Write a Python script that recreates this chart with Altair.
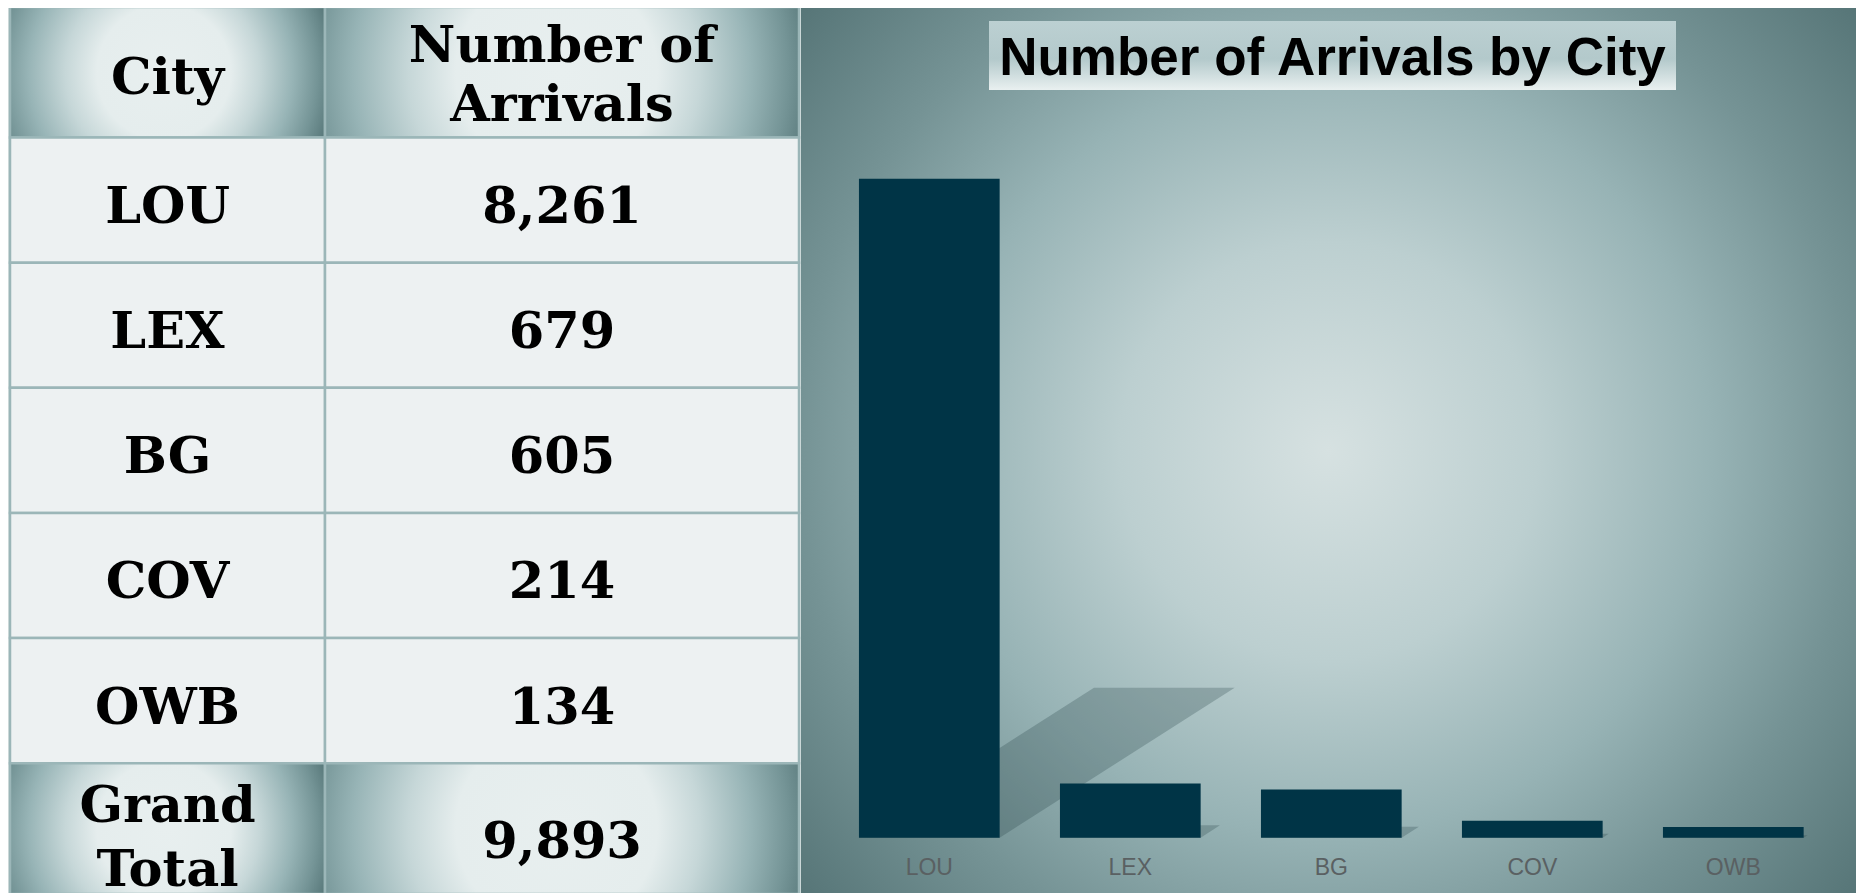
import altair as alt
import pandas as pd

# ---------------- data ----------------
cities = ["LOU", "LEX", "BG", "COV", "OWB"]
arrivals = [8261, 679, 605, 214, 134]
grand_total = 9893
header_city = "City"
header_value = "Number of\nArrivals"
total_label = "Grand\nTotal"
chart_title = "Number of Arrivals by City"

# ---------------- layout / style ----------------
W, H = 1848, 885
BODY = "#edf1f2"
GRID = "#9bb6b8"
BAR = "#003446"
SERIF = "DejaVu Serif"

row_keys = ["header"] + cities + ["total"]
city_text = [header_city] + cities + [total_label]
value_text = [header_value] + [f"{v:,}" for v in arrivals] + [f"{grand_total:,}"]
kinds = ["head"] + ["body"] * len(cities) + ["total"]

table = pd.DataFrame({"row": row_keys, "City": city_text, "Number": value_text, "kind": kinds})
bars = pd.DataFrame({"city": cities, "arrivals": arrivals})
one = pd.DataFrame({"k": [0]})

SEGMENTS = {
    "head": (["header"], [-1, 129.5]),
    "body": (cities, [129.5, 755.2]),
    "total": (["total"], [755.2, 886]),
}
# (dy for multi-line text, line height, dy for single-line text)
SEG_TEXT = {"head": (-25.5, 59, 6.5), "total": (-22, 64, 14)}

head_grad = alt.RadialGradient(
    gradient="radial", x1=0.5, y1=0.5, r1=0, x2=0.47, y2=0.5, r2=0.56,
    stops=[
        alt.GradientStop(offset=0, color="#e8efef"),
        alt.GradientStop(offset=0.38, color="#e5eded"),
        alt.GradientStop(offset=0.55, color="#c6d7d8"),
        alt.GradientStop(offset=0.75, color="#97b4b6"),
        alt.GradientStop(offset=0.9, color="#749496"),
        alt.GradientStop(offset=1, color="#5b7b7d"),
    ],
)

panel_grad = alt.RadialGradient(
    gradient="radial", x1=0.5, y1=0.5, r1=0, x2=0.5, y2=0.5, r2=0.66,
    stops=[
        alt.GradientStop(offset=0, color="#d6e1e1"),
        alt.GradientStop(offset=0.3, color="#bccfd0"),
        alt.GradientStop(offset=0.55, color="#97b3b5"),
        alt.GradientStop(offset=0.76, color="#759395"),
        alt.GradientStop(offset=1, color="#557476"),
    ],
)

title_grad = alt.LinearGradient(
    gradient="linear", x1=0, y1=0, x2=0, y2=1,
    stops=[
        alt.GradientStop(offset=0, color="#bcd0d2"),
        alt.GradientStop(offset=0.55, color="#b3c9cb"),
        alt.GradientStop(offset=1, color="#e9f0f0"),
    ],
)

TEXT_STYLE = dict(font=SERIF, fontWeight="bold", fontSize=51, lineBreak="\n",
                  baseline="middle", align="center", color="black")


def column_layers(field, rng):
    xs = alt.Scale(domain=[field], range=rng, paddingInner=0, paddingOuter=0)
    x = alt.X("col:N", scale=xs, axis=None)
    out = []
    for seg, (dom, yr) in SEGMENTS.items():
        ys = alt.Scale(domain=dom, range=yr, paddingInner=0, paddingOuter=0)
        y = alt.Y("row:N", scale=ys, axis=None, sort=None)
        base = alt.Chart(table).transform_filter(f"datum.kind == '{seg}'").transform_calculate(
            col=f"'{field}'")
        fill = BODY if seg == "body" else head_grad
        out.append(base.mark_rect(fill=fill, stroke=GRID, strokeWidth=2.5).encode(x=x, y=y))
        multi = f"indexof(datum['{field}'], '\\n') >= 0"
        if seg == "body":
            out.append(base.mark_text(dy=8, lineHeight=59, **TEXT_STYLE).encode(
                x=x, y=y, text=f"{field}:N"))
        else:
            dy_multi, lh, dy_single = SEG_TEXT[seg]
            out.append(base.transform_filter(multi).mark_text(
                dy=dy_multi, lineHeight=lh, **TEXT_STYLE).encode(x=x, y=y, text=f"{field}:N"))
            out.append(base.transform_filter(f"!({multi})").mark_text(
                dy=dy_single, lineHeight=lh, **TEXT_STYLE).encode(x=x, y=y, text=f"{field}:N"))
    return out


panel = alt.Chart(one).mark_rect(fill=panel_grad).encode(
    x=alt.value(793), x2=alt.value(W), y=alt.value(-2), y2=alt.value(H + 2))

title_box = alt.Chart(one).mark_rect(fill=title_grad).encode(
    x=alt.value(981), x2=alt.value(1668), y=alt.value(13), y2=alt.value(82))

title_text = alt.Chart(one).mark_text(
    text=chart_title, font="Liberation Sans", fontWeight="bold", fontSize=53,
    align="center", baseline="middle", color="black",
).encode(x=alt.value(1324.5), y=alt.value(51))

# bar chart scales
base_y = 829.7
px_per = 659 / 8261
band_range = [820.8, 1825.8]
step_px = (band_range[1] - band_range[0]) / len(cities)
x_band = alt.Scale(domain=cities, range=band_range, paddingInner=0.3, paddingOuter=0.15)
y_lin = alt.Scale(domain=[0, 9000], range=[base_y, base_y - 9000 * px_per], nice=False)

xb = alt.X("city:N", sort=None, scale=x_band, axis=None)
yb = alt.Y("arrivals:Q", scale=y_lin, axis=None)
bar_layer = alt.Chart(bars).mark_bar(color=BAR).encode(x=xb, y=yb)

labels = alt.Chart(bars).mark_text(
    font="Liberation Sans", fontSize=23, color="#5a6062", baseline="middle", align="center",
).encode(x=xb, text="city:N", y=alt.value(860))

# perspective shadow cast by each bar (derived from the bar values)
SH_K = 0.2276      # shadow height relative to bar height
SH_SHEAR = 1.567   # horizontal shift per unit of shadow height
rows = []
for i, (c, v) in enumerate(zip(cities, arrivals)):
    L, R = i + 0.15, i + 0.85
    T = v * SH_K
    D = SH_SHEAR * T * px_per / step_px
    for xx in sorted({L, R, L + D, R + D}):
        up = min(T, T * (xx - L) / D)
        lo = max(0.0, T * (xx - R) / D)
        rows.append({"city": c, "xu": float(xx), "lo": float(lo), "up": float(up)})
shadow_df = pd.DataFrame(rows)
shadow_x = alt.X("xu:Q", scale=alt.Scale(domain=[0, len(cities)], range=band_range, nice=False, zero=False), axis=None)
shadow_y = alt.Y("lo:Q", scale=y_lin, axis=None, stack=None)
shadow = alt.Chart(shadow_df).mark_area(
    color="#1e3a40", opacity=0.25, interpolate="linear", orient="vertical"
).encode(x=shadow_x, y=shadow_y, y2=alt.Y2("up:Q"), detail="city:N")

layers = [panel, title_box, title_text]
layers += column_layers("City", [2, 317])
layers += column_layers("Number", [317, 791])
layers += [shadow, bar_layer, labels]

chart = alt.layer(*layers).resolve_scale(x="independent", y="independent").properties(
    width=W, height=H, padding=0, background="#dbe3e3",
    autosize=alt.AutoSizeParams(type="none"),
).configure_view(stroke=None)

chart.save("out.html", embed_options={"renderer": "svg", "actions": False})
